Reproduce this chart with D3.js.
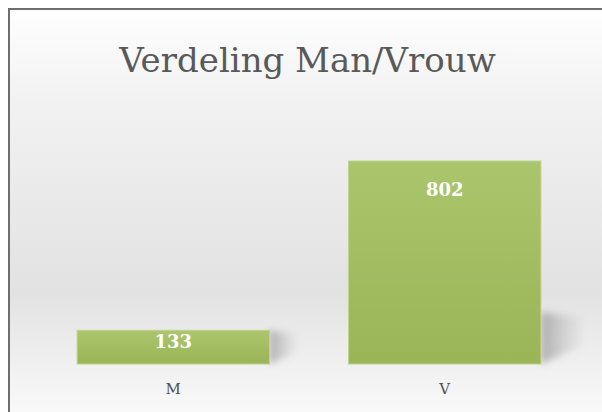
<!DOCTYPE html>
<html><head><meta charset="utf-8">
<script src="https://cdn.jsdelivr.net/npm/d3@7"></script>
<style>html,body{margin:0;padding:0;background:#fff;}svg{display:block;}</style>
</head><body>
<script>
const categories = ["M", "V"];
const values = [133, 802];
const title = "Verdeling Man/Vrouw";

const W = 602, H = 412;
const svg = d3.select("body").append("svg").attr("width", W).attr("height", H);
const defs = svg.append("defs");

const bg = defs.append("linearGradient").attr("id", "bg").attr("gradientUnits", "userSpaceOnUse")
  .attr("x1", 0).attr("y1", 10).attr("x2", 0).attr("y2", 412);
[[0, "#fefefe"], [0.22, "#f2f2f2"], [0.7, "#e2e2e2"], [1, "#f9f9f9"]].forEach(([o, c]) =>
  bg.append("stop").attr("offset", o).attr("stop-color", c));

const bar = defs.append("linearGradient").attr("id", "barg").attr("x1", 0).attr("y1", 0).attr("x2", 0).attr("y2", 1);
[[0, "#abc56d"], [1, "#9ab556"]].forEach(([o, c]) => bar.append("stop").attr("offset", o).attr("stop-color", c));

const blur = defs.append("filter").attr("id", "blur").attr("x", "-50%").attr("y", "-50%").attr("width", "200%").attr("height", "200%");
blur.append("feGaussianBlur").attr("stdDeviation", 3.5);

const sh = defs.append("linearGradient").attr("id", "shg").attr("x1", 0).attr("y1", 0).attr("x2", 1).attr("y2", 0);
[[0, "#a0a0a0", 0.85], [1, "#c8c8c8", 0.2]].forEach(([o, c, a]) =>
  sh.append("stop").attr("offset", o).attr("stop-color", c).attr("stop-opacity", a));

svg.append("rect").attr("x", 9).attr("y", 9).attr("width", W).attr("height", H)
  .attr("fill", "url(#bg)").attr("stroke", "#6e6e6e").attr("stroke-width", 2);

const x = d3.scaleBand().domain(categories).range([37.5, 580.5]).paddingInner(0.2915).paddingOuter(0.1458);
const y = d3.scaleLinear().domain([0, 900]).range([364, 136.2]);

const g = svg.append("g");
const data = categories.map((c, i) => ({ c, v: values[i] }));

// shadows
g.selectAll("path.shadow").data(data).enter().append("path")
  .attr("class", "shadow")
  .attr("d", d => {
    const xr = x(d.c) + x.bandwidth();
    const yb = y(0);
    const h = Math.min(yb - y(d.v), 52);
    const w = 40 * h / 52;
    return `M${xr},${yb - h}L${xr + w},${yb - h * 0.9}L${xr + w},${yb - h * 0.33}L${xr},${yb}Z`;
  })
  .attr("fill", "url(#shg)").attr("filter", "url(#blur)");

g.selectAll("rect.bar").data(data).enter().append("rect")
  .attr("class", "bar")
  .attr("x", d => x(d.c)).attr("width", x.bandwidth())
  .attr("y", d => y(d.v)).attr("height", d => y(0) - y(d.v))
  .attr("fill", "url(#barg)").attr("stroke", "#bdd38c").attr("stroke-width", 1);

g.selectAll("text.lbl").data(data).enter().append("text")
  .attr("class", "lbl")
  .attr("x", d => x(d.c) + x.bandwidth() / 2)
  .attr("y", d => y(d.v) + Math.min(35, (y(0) - y(d.v)) * 0.52))
  .attr("text-anchor", "middle")
  .attr("font-family", "'DejaVu Serif', serif").attr("font-weight", "bold").attr("font-size", 18)
  .attr("fill", "#ffffff")
  .text(d => d.v);

const xAxis = d3.axisBottom(x).tickSize(0).tickPadding(0);
const ax = svg.append("g").attr("transform", "translate(0,383)").call(xAxis);
ax.select(".domain").remove();
ax.selectAll("text").attr("font-family", "'DejaVu Serif', serif").attr("font-size", 15).attr("fill", "#505050");

svg.append("text").attr("x", 307.5).attr("y", 72).attr("text-anchor", "middle")
  .attr("font-family", "'DejaVu Serif', serif").attr("font-size", 34).attr("fill", "#595959")
  .text(title);
</script>
</body></html>
